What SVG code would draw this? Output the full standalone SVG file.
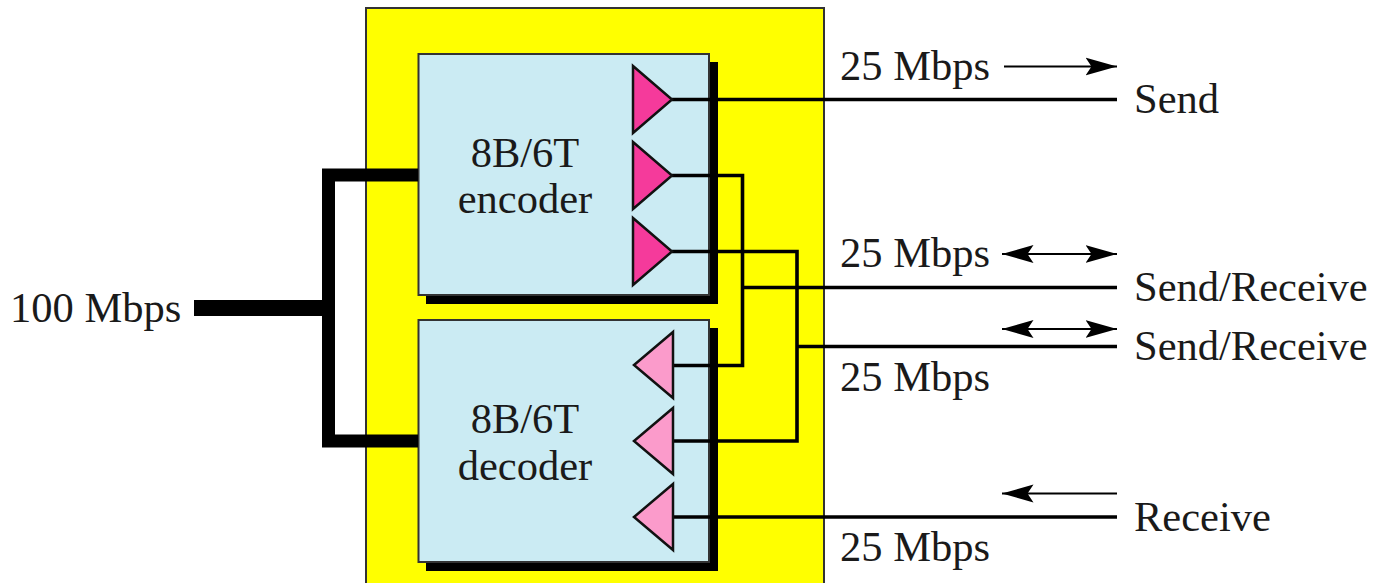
<svg xmlns="http://www.w3.org/2000/svg" width="1375" height="583" viewBox="0 0 1375 583">
<defs>
<style>
text{font-family:"Liberation Serif","Times New Roman",serif;font-size:42.500px;fill:#1a1a1a}
.box{fill:#cbebf3;stroke:#333;stroke-width:2}
.shadow{fill:#000}
.tx{fill:#f53a9b;stroke:#111;stroke-width:2.500}
.rx{fill:#fb9bcb;stroke:#111;stroke-width:2.500}
.w{fill:none;stroke:#000;stroke-width:3.600}
.a{fill:none;stroke:#000;stroke-width:2}
.bus{fill:none;stroke:#000;stroke-width:13}
</style>
<marker id="head" viewBox="0 0 32 20" refX="31.500" refY="10" markerWidth="32" markerHeight="20" markerUnits="userSpaceOnUse" orient="auto-start-reverse"><path d="M0 1L31.500 10L0 19L6 10Z" fill="#000"/></marker>
</defs>
<rect x="0" y="0" width="1375" height="583" fill="#fff"/>
<rect id="board" x="366" y="8" width="458" height="590" fill="#ff0" stroke="#333" stroke-width="2"/>
<g id="encoder">
<rect class="shadow" x="426" y="62" width="292" height="242"/>
<rect class="box" x="418.500" y="54" width="290.500" height="241"/>
<text x="525" y="167" text-anchor="middle">8B/6T</text>
<text x="525" y="213" text-anchor="middle">encoder</text>
</g>
<g id="decoder">
<rect class="shadow" x="426" y="328" width="292" height="243"/>
<rect class="box" x="418.500" y="320" width="290.500" height="242"/>
<text x="525" y="433" text-anchor="middle">8B/6T</text>
<text x="525" y="480" text-anchor="middle">decoder</text>
</g>
<g id="connectors">
<path class="bus" d="M418 175H328.500V441H418"/>
<path d="M194 308H328" fill="none" stroke="#000" stroke-width="16"/>
<path class="w" d="M672 99.500H1117"/>
<path class="w" d="M672 175.500H742.500V365.500H673"/>
<path class="w" d="M672 251.500H797V441H673"/>
<path class="w" d="M742.500 287.500H1117"/>
<path class="w" d="M797 346.500H1117"/>
<path class="w" d="M673 517H1117"/>
<path class="a" d="M1004 66.500H1117" marker-end="url(#head)"/>
<path class="a" d="M1002 254H1117" marker-start="url(#head)" marker-end="url(#head)"/>
<path class="a" d="M1002 329H1117" marker-start="url(#head)" marker-end="url(#head)"/>
<path class="a" d="M1117 493.500H1002" marker-end="url(#head)"/>
</g>
<g id="tx1"><path class="tx" d="M633 66L672 99.500L633 133Z"/></g>
<g id="tx2"><path class="tx" d="M633 142L672 175.500L633 209Z"/></g>
<g id="tx3"><path class="tx" d="M633 218L672 251.500L633 285Z"/></g>
<g id="rx1"><path class="rx" d="M673 332L634 365L673 398Z"/></g>
<g id="rx2"><path class="rx" d="M673 408L634 441L673 474Z"/></g>
<g id="rx3"><path class="rx" d="M673 484L634 517L673 550Z"/></g>
<g id="labels">
<text x="10" y="322">100 Mbps</text>
<text x="840" y="80">25 Mbps</text>
<text x="840" y="267">25 Mbps</text>
<text x="840" y="391">25 Mbps</text>
<text x="840" y="561">25 Mbps</text>
<text x="1134" y="113">Send</text>
<text x="1134" y="301">Send/Receive</text>
<text x="1134" y="360">Send/Receive</text>
<text x="1134" y="531">Receive</text>
</g>
</svg>
